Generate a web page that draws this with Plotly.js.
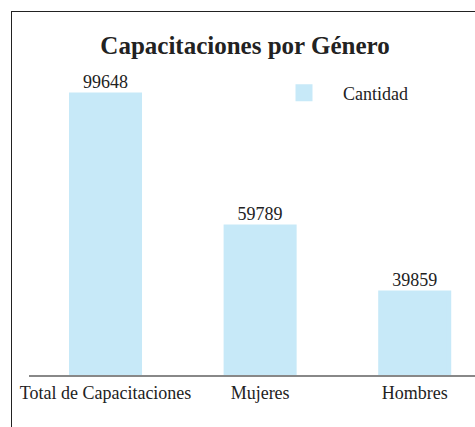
<!DOCTYPE html>
<html>
<head>
<meta charset="utf-8">
<script src="https://cdn.plot.ly/plotly-3.0.1.min.js"></script>
<style>
  html, body { margin: 0; padding: 0; width: 475px; height: 427px; overflow: hidden; background: #fff; }
  #frame { position: absolute; left: 11px; top: 11px; width: 1000px; height: 1000px; border-left: 1.5px solid #222; border-top: 1.5px solid #222; pointer-events: none; }
  #chart { position: absolute; left: 0; top: 0; width: 475px; height: 427px; }
</style>
</head>
<body>
<div id="chart"></div>
<div id="frame"></div>
<script>
const categories = ["Total de Capacitaciones", "Mujeres", "Hombres"];
const values = [99648, 59789, 39859];
const seriesName = "Cantidad";
const titleText = "Capacitaciones por Género";

const serif = "Liberation Serif, Times New Roman, serif";
const barColor = "#c7e9f8";

const trace = {
  type: "bar",
  x: categories,
  y: values,
  name: seriesName,
  text: values.map(String),
  textposition: "outside",
  cliponaxis: false,
  textfont: { family: serif, size: 18, color: "#222" },
  marker: { color: barColor, line: { color: barColor, width: 5 } },
  width: 0.44,
  hoverinfo: "x+y"
};

const layout = {
  width: 475,
  height: 427,
  margin: { l: 29, r: 0, t: 60, b: 52, autoexpand: false },
  paper_bgcolor: "#fff",
  plot_bgcolor: "#fff",
  font: { family: serif, size: 18, color: "#222" },
  title: {
    text: "<b>" + titleText + "</b>",
    font: { family: serif, size: 25, color: "#222" },
    xref: "container", yref: "container",
    x: 245 / 475, xanchor: "center",
    y: 1 - 45 / 427, yanchor: "middle"
  },
  showlegend: true,
  legend: {
    xref: "paper", yref: "paper",
    x: (265 - 29) / 446, xanchor: "left",
    y: 1 - (93 - 60) / 315, yanchor: "middle",
    font: { family: serif, size: 18, color: "#222" },
    bgcolor: "rgba(0,0,0,0)",
    itemwidth: 68
  },
  xaxis: {
    type: "category",
    range: [-0.495, 2.39],
    showline: true,
    linecolor: "#888",
    linewidth: 2,
    ticks: "",
    tickangle: 0,
    showgrid: false,
    zeroline: false,
    automargin: false,
    tickfont: { family: serif, size: 18, color: "#222" },
    fixedrange: true
  },
  yaxis: {
    range: [15100, 110208],
    visible: false,
    showgrid: false,
    zeroline: false,
    automargin: false,
    fixedrange: true
  },
  bargap: 0.5
};

Plotly.newPlot("chart", [trace], layout, { displayModeBar: false, staticPlot: true });
</script>
</body>
</html>
